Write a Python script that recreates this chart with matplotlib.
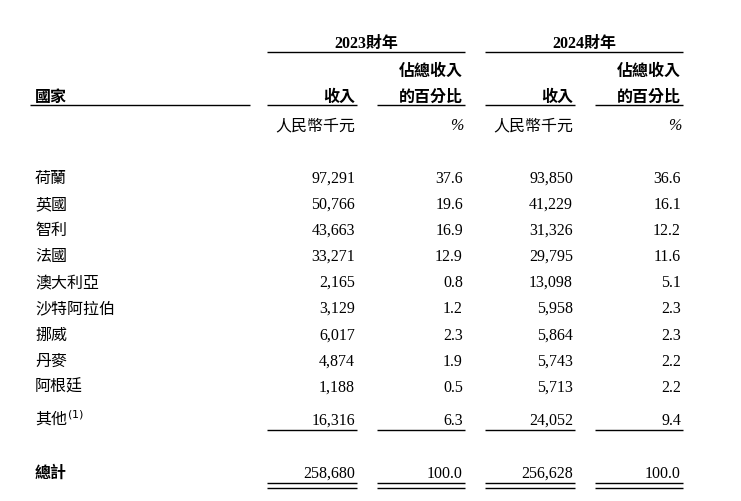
import matplotlib
matplotlib.use("Agg")
import matplotlib.pyplot as plt

countries = ["荷蘭", "英國", "智利", "法國", "澳大利亞", "沙特阿拉伯", "挪威", "丹麥", "阿根廷", "其他$^{(1)}$"]
rev_2023 = ["97,291", "50,766", "43,663", "33,271", "2,165", "3,129", "6,017", "4,874", "1,188", "16,316"]
pct_2023 = ["37.6", "19.6", "16.9", "12.9", "0.8", "1.2", "2.3", "1.9", "0.5", "6.3"]
rev_2024 = ["93,850", "41,229", "31,326", "29,795", "13,098", "5,958", "5,864", "5,743", "5,713", "24,052"]
pct_2024 = ["36.6", "16.1", "12.2", "11.6", "5.1", "2.3", "2.3", "2.2", "2.2", "9.4"]
total = ["258,680", "100.0", "256,628", "100.0"]

FAM = ["Liberation Serif", "Noto Sans CJK TC", "DejaVu Sans"]
CJK = ["Noto Sans CJK TC", "Liberation Serif", "DejaVu Sans"]

fig = plt.figure(figsize=(7.41, 5.02), dpi=100)
ax = fig.add_axes([0, 0, 1, 1])
ax.set_xlim(0, 741); ax.set_ylim(502, 0); ax.axis("off")

fs = 11.5
colx = [355, 463, 573, 681]

def t(x, y, s, ha="right", bold=False, fam=FAM, style="normal"):
    ax.text(x, y + 5, s, ha=ha, va="baseline", fontsize=fs, family=fam,
            fontweight="bold" if bold else "normal", style=style, color="black")

def hl(x0, x1, y, lw=1.0):
    ax.plot([x0, x1], [y, y], color="black", lw=lw, solid_capstyle="butt")

# headers
t(366, 43, "2023財年", ha="center", bold=True)
t(584, 43, "2024財年", ha="center", bold=True)
hl(267, 465, 53); hl(485, 683, 53)
t(colx[1], 71, "佔總收入", bold=True, fam=CJK)
t(colx[3], 71, "佔總收入", bold=True, fam=CJK)
t(35, 97, "國家", ha="left", bold=True, fam=CJK)
t(colx[0], 97, "收入", bold=True, fam=CJK)
t(colx[2], 97, "收入", bold=True, fam=CJK)
t(colx[1], 97, "的百分比", bold=True, fam=CJK)
t(colx[3], 97, "的百分比", bold=True, fam=CJK)
hl(30, 250, 106)
for a, b in [(267, 357), (377, 465), (485, 575), (595, 683)]:
    hl(a, b, 106)
t(colx[0], 125, "人民幣千元", fam=CJK, style="italic")
t(colx[2], 125, "人民幣千元", fam=CJK, style="italic")
t(colx[1], 125, "%", style="italic")
t(colx[3], 125, "%", style="italic")

ys = [178, 204, 230, 256, 282, 308, 335, 361, 387, 420]
for i, y in enumerate(ys):
    t(35, y, countries[i], ha="left", fam=CJK)
    for x, col in zip(colx, [rev_2023, pct_2023, rev_2024, pct_2024]):
        t(x, y, col[i])

for a, b in [(267, 357), (377, 465), (485, 575), (595, 683)]:
    hl(a, b, 431)
    hl(a, b, 484); hl(a, b, 489)

t(35, 473, "總計", ha="left", bold=True, fam=CJK)
for x, v in zip(colx, total):
    t(x, 473, v)

fig.savefig("out.png", dpi=100)
